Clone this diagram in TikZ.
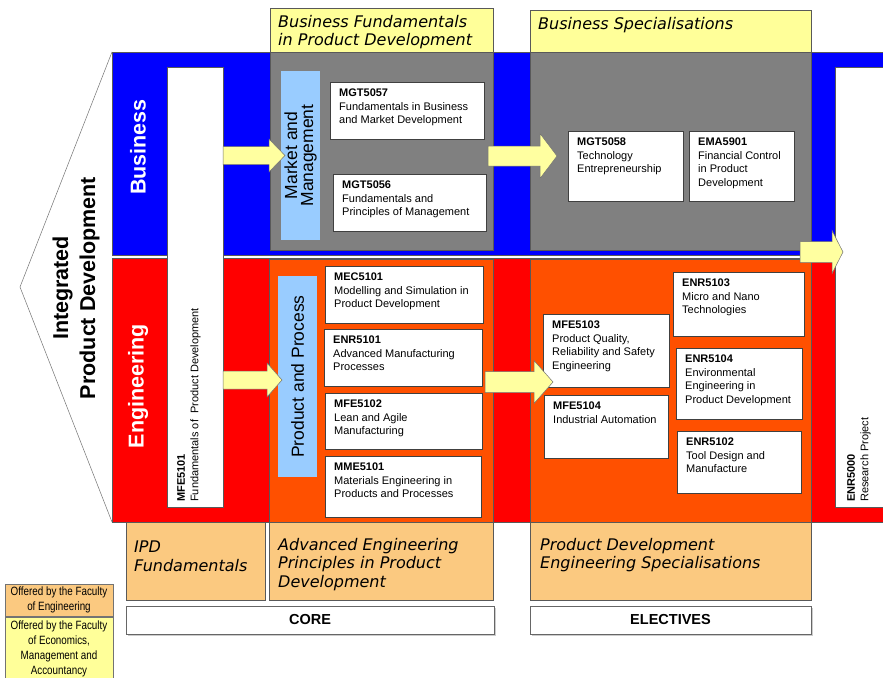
\documentclass[tikz,border=0pt]{standalone}
\usepackage{fontspec}
\setmainfont{Liberation Sans}
\newfontfamily\hdrfont{DejaVu Sans}
\newfontfamily\narrowfont{Liberation Sans}[FakeStretch=0.82]
\usetikzlibrary{calc,shadows}

\definecolor{bizblue}{RGB}{0,0,255}
\definecolor{engred}{RGB}{255,0,0}
\definecolor{engorange}{RGB}{255,80,0}
\definecolor{hdryellow}{RGB}{255,255,153}
\definecolor{hdrtan}{RGB}{251,201,128}
\definecolor{paleblue}{RGB}{153,204,255}
\definecolor{boxgray}{RGB}{128,128,128}
\definecolor{arrowyellow}{RGB}{255,255,160}

% rectangle given by its top-left and bottom-right corners
\newcommand\region[7]{%
  \node[frame, #6, minimum width={(#4-#2)*1pt}, minimum height={(#5-#3)*1pt}] (#1) at (#2,#3) {#7};}

% course box: code in bold, then its title
\newcommand\coursebox[7]{%
  \node[course, minimum width={(#4-#2)*1pt}, minimum height={(#5-#3)*1pt}] (#1) at (#2,#3) {};
  \node[coursetext] (#1-text) at ($(#1.north west)+(9,7)$) {\textbf{#6}\\#7};}

% block arrow: start, tip, body half-width, head half-width, head length
\newcommand\blockarrow[5]{%
  \draw[yarrow] let \p1=#1, \p2=#2 in
    (\x1,{\y1+#3pt}) -- ({\x2-#5pt},{\y1+#3pt}) -- ({\x2-#5pt},{\y2+#4pt}) -- (\x2,\y2)
    -- ({\x2-#5pt},{\y2-#4pt}) -- ({\x2-#5pt},{\y1-#3pt}) -- (\x1,{\y1-#3pt}) -- cycle;}

\begin{document}
\begin{tikzpicture}[x=1pt,y=-1pt,
  frame/.style={draw=black!65, line width=0.5pt, anchor=north west, inner sep=0pt, outer sep=0pt},
  course/.style={frame, fill=white, draw=black!75,
    drop shadow={shadow xshift=1.2pt, shadow yshift=-1.2pt, opacity=0.35}},
  coursetext/.style={anchor=north west, inner sep=0pt, align=left,
    font=\fontsize{11}{13.5}\selectfont},
  hdrtext/.style={anchor=north west, inner sep=0pt, align=left,
    font=\hdrfont\itshape\fontsize{16}{18.5}\selectfont},
  yarrow/.style={fill=arrowyellow, draw=black!55, line width=0.5pt, line join=miter},
  bandlabel/.style={rotate=90, inner sep=0pt, text=white, font=\bfseries\fontsize{21.5}{24}\selectfont},
  vlabel/.style={rotate=90, inner sep=0pt, align=center, font=\fontsize{17.5}{16}\selectfont},
  vcourse/.style={rotate=90, anchor=north west, inner sep=0pt, align=left,
    font=\fontsize{11}{13.5}\selectfont},
  tag/.style={draw=black!60, fill=white,
    drop shadow={shadow xshift=1.5pt, shadow yshift=-1.5pt, opacity=0.4},
    font=\bfseries\fontsize{14.5}{17}\selectfont},
  legend/.style={draw=black!55, align=center, font=\narrowfont\fontsize{12}{15}\selectfont},
]
\useasboundingbox (0,0) rectangle (883,677);
\clip (0,0) rectangle (883,677);
\fill[white] (0,0) rectangle (883,677);

% left chevron
\draw[fill=white, draw=black!55, line width=0.5pt] (112,52) -- (20,287) -- (112,522);

% business and engineering bands
\region{bizband}{112}{52}{890}{255}{fill=bizblue}{}
\region{engband}{112}{258}{890}{522}{fill=engred}{}

% the two long vertical units
\region{mfe}{167}{67}{223}{507}{fill=white}{}
\region{enr5000}{835}{67}{890}{507}{fill=white}{}

% column blocks
\region{bfhdr}{270}{8}{493}{52}{fill=hdryellow}{}
\region{bfcol}{270}{52}{493}{250}{fill=boxgray}{}
\region{bshdr}{530}{10}{811}{52}{fill=hdryellow}{}
\region{bscol}{530}{52}{811}{250}{fill=boxgray}{}
\region{aecol}{269}{259}{493}{522}{fill=engorange}{}
\region{aehdr}{269}{522}{493}{600}{fill=hdrtan}{}
\region{pecol}{530}{259}{811}{522}{fill=engorange}{}
\region{pehdr}{530}{522}{811}{600}{fill=hdrtan}{}
\region{ipdhdr}{126}{522}{265}{600}{fill=hdrtan}{}

% pale blue theme strips
\region{mm}{281}{71}{320}{240}{fill=paleblue, draw=none}{}
\region{pp}{278}{276}{317}{477}{fill=paleblue, draw=none}{}
\node[vlabel] (mm-text) at (mm.center) {Market and\\Management};
\node[vlabel] (pp-text) at (pp.center) {Product and Process};

% courses
\coursebox{mgt5057}{330}{82}{484}{139}{MGT5057}{Fundamentals in Business\\and Market Development}
\coursebox{mgt5056}{333}{174}{486}{231}{MGT5056}{Fundamentals and\\Principles of Management}
\coursebox{mgt5058}{568}{131}{683}{201}{MGT5058}{Technology\\Entrepreneurship}
\coursebox{ema5901}{689}{131}{794}{201}{EMA5901}{Financial Control\\in Product\\Development}
\coursebox{mec5101}{325}{266}{483}{323}{MEC5101}{Modelling and Simulation in\\Product Development}
\coursebox{enr5101}{324}{329}{482}{386}{ENR5101}{Advanced Manufacturing\\Processes}
\coursebox{mfe5102}{325}{393}{482}{449}{MFE5102}{Lean and Agile\\Manufacturing}
\coursebox{mme5101}{325}{456}{481}{517}{MME5101}{Materials Engineering in\\Products and Processes}
\coursebox{mfe5103}{543}{314}{669}{387}{MFE5103}{Product Quality,\\Reliability and Safety\\Engineering}
\coursebox{mfe5104}{544}{395}{668}{458}{MFE5104}{Industrial Automation}
\coursebox{enr5103}{673}{272}{804}{336}{ENR5103}{Micro and Nano\\Technologies}
\coursebox{enr5104}{676}{348}{802}{419}{ENR5104}{Environmental\\Engineering in\\Product Development}
\coursebox{enr5102}{677}{431}{801}{493}{ENR5102}{Tool Design and\\Manufacture}

% progression arrows
\blockarrow{(mfe.east |- mm.west)}{($(mm.west)+(4,0)$)}{9}{16.5}{16}
\blockarrow{($(bfcol.east)+(-5,5)$)}{($(mgt5058.west |- bfcol.east)+(-11,5)$)}{10}{22.5}{17}
\blockarrow{($(bscol.south east)+(-11,2)$)}{($(enr5000.west |- bscol.south east)+(8,2)$)}{10.5}{21.5}{11}
\blockarrow{($(mfe.east |- pp.west)+(0,3.5)$)}{($(pp.west)+(4,3.5)$)}{9}{17}{15}
\blockarrow{($(aecol.east)+(-8,-8.5)$)}{($(mfe5103.west |- aecol.east)+(10,-8.5)$)}{10.5}{21.5}{19}

% vertical texts
\node[vcourse] (mfe-text) at ($(mfe.south west)+(10,-5)$) {\textbf{MFE5101}\\Fundamentals of\ \ Product Development};
\node[vcourse] (enr5000-text) at ($(enr5000.south west)+(12,-5)$) {\textbf{ENR5000}\\Research Project};
\node[bandlabel] (biz-label) at (138,147) {Business};
\node[bandlabel] (eng-label) at (138,386) {Engineering};
\node[rotate=90, inner sep=0pt, align=center, font=\bfseries\fontsize{21.5}{27}\selectfont]
  (ipd-label) at (76,288) {Integrated\\Product Development};

% column headings
\node[hdrtext] (bfhdr-text) at ($(bfhdr.north west)+(8,7)$) {Business Fundamentals\\in Product Development};
\node[hdrtext] (bshdr-text) at ($(bshdr.north west)+(8,7)$) {Business Specialisations};
\node[hdrtext] (ipd-text) at ($(ipdhdr.north west)+(8,19)$) {IPD\\Fundamentals};
\node[hdrtext] (ae-text) at ($(aehdr.north west)+(9,16)$) {Advanced Engineering\\Principles in Product\\Development};
\node[hdrtext] (pe-text) at ($(pehdr.north west)+(10,16)$) {Product Development\\Engineering Specialisations};

% core / electives
\region{core}{126}{606}{494}{634}{tag}{CORE}
\region{electives}{530}{606}{811}{634}{tag}{ELECTIVES}

% legend
\region{legeng}{5}{584}{113}{616}{legend, fill=hdrtan}{Offered by the Faculty\\of Engineering}
\region{legeco}{5}{617}{113}{680}{legend, fill=hdryellow}{Offered by the Faculty\\of Economics,\\Management and\\Accountancy}
\end{tikzpicture}
\end{document}
